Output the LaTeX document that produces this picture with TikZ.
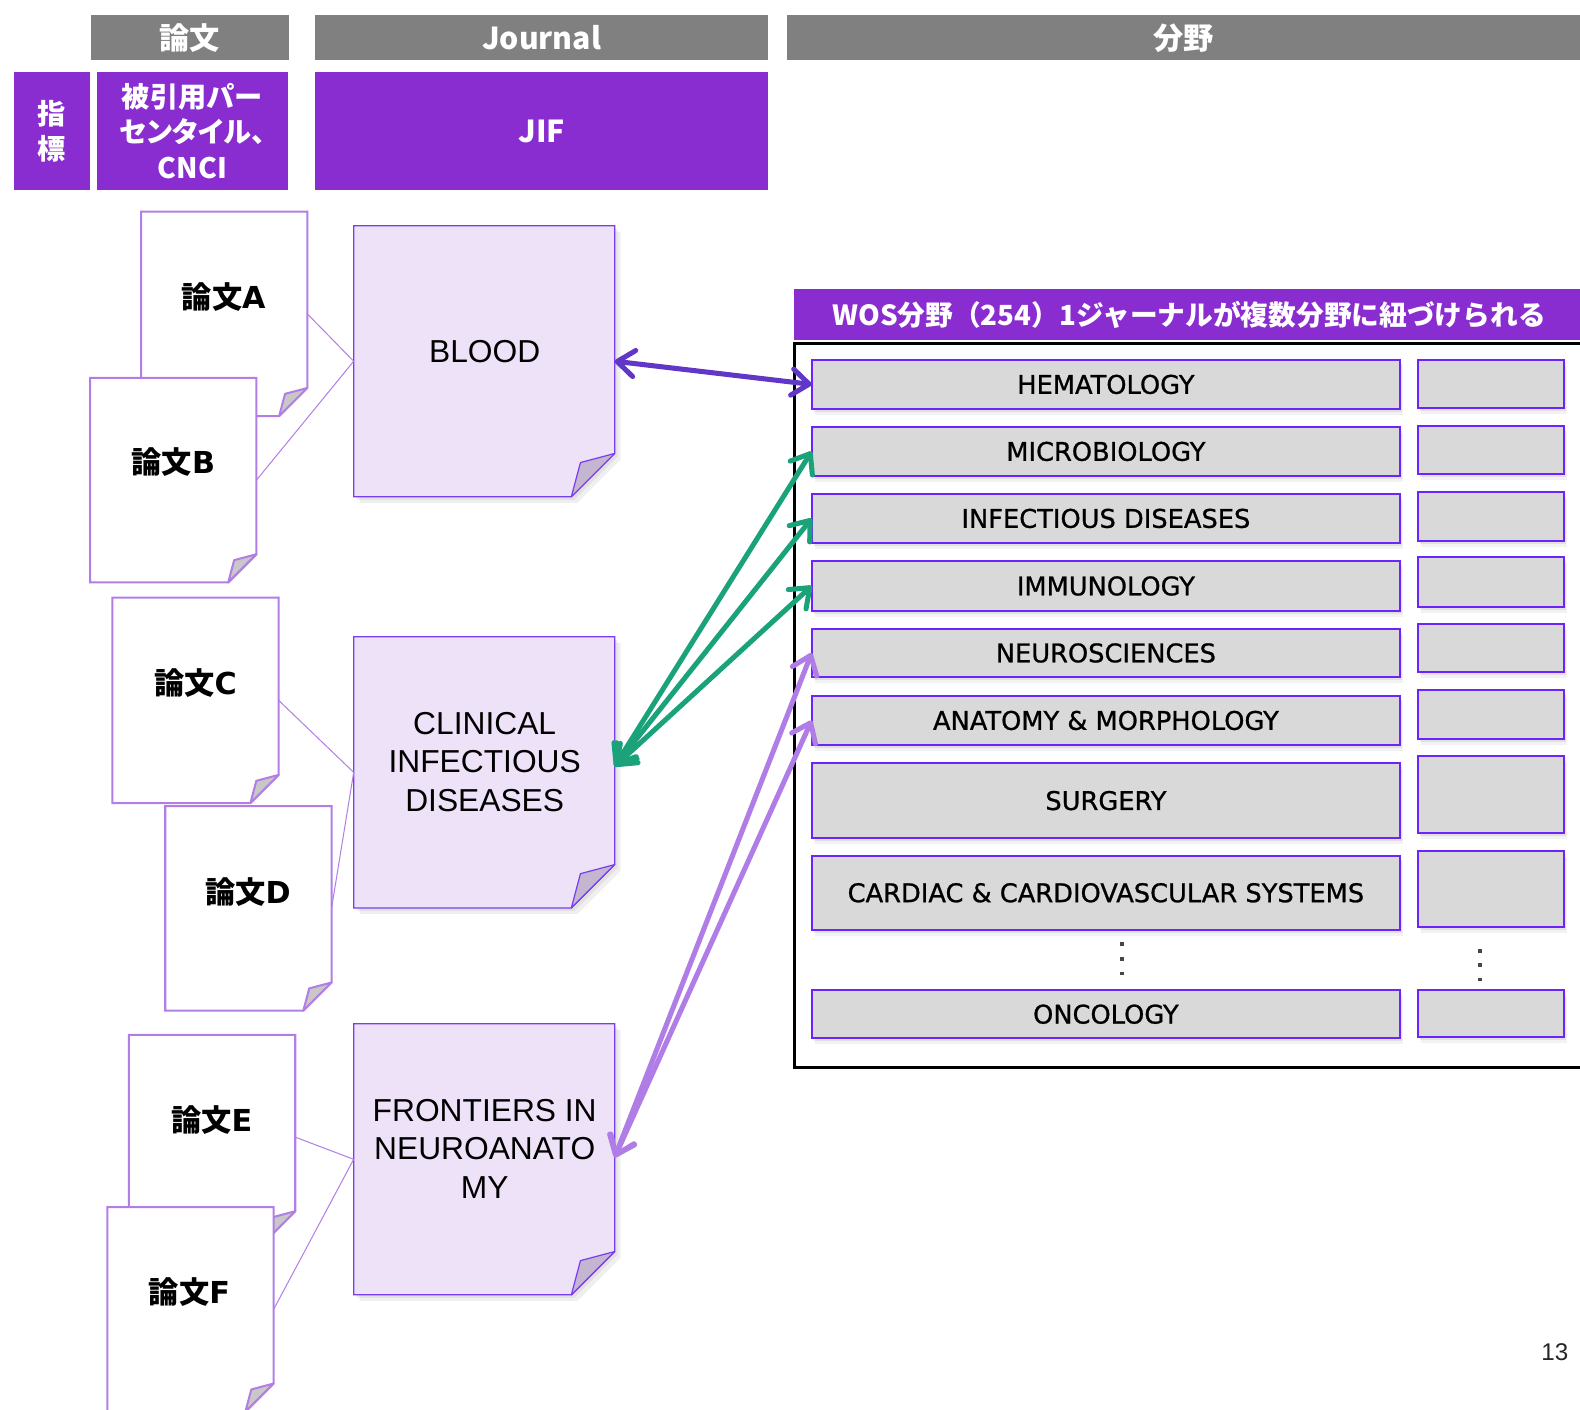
\documentclass[tikz,border=0pt]{standalone}
\usepackage{fontspec}
\setmainfont{DejaVu Sans}
\newfontfamily\jpfont{Noto Sans CJK JP}
\newfontfamily\arialfont{Liberation Sans}
\newfontfamily\catfont{DejaVu Sans}[BoldFont={DejaVu Sans}, BoldFeatures={FakeBold=0.9}]
\usetikzlibrary{arrows.meta,shadows}
\definecolor{hdrgray}{RGB}{128,128,128}
\definecolor{vpurple}{RGB}{138,45,208}
\definecolor{paperline}{RGB}{178,126,230}
\definecolor{foldgray}{RGB}{200,200,200}
\definecolor{jfill}{RGB}{238,226,248}
\definecolor{jline}{RGB}{122,60,240}
\definecolor{jfold}{RGB}{196,182,208}
\definecolor{catfill}{RGB}{217,217,217}
\definecolor{catline}{RGB}{108,36,250}
\definecolor{arrpurple}{RGB}{96,55,198}
\definecolor{arrgreen}{RGB}{26,163,122}
\definecolor{arrlight}{RGB}{176,124,230}
\definecolor{dotgray}{RGB}{70,70,70}
% folded-corner document outline drawn round a named node
% #1 node, #2 cut, #3 fill, #4 draw, #5 fold fill, #6 line width, #7 extra style
\newcommand\docshape[7]{%
  \path[fill=#3, draw=#4, line width=#6, #7] (#1.north west) -- (#1.north east)
    -- ([yshift=#2pt]#1.south east) -- ([xshift=-#2pt]#1.south east)
    -- (#1.south west) -- cycle;
  \path[fill=#5, draw=#4, line width=#6, line join=round] ([yshift=#2pt]#1.south east)
    -- ([xshift={-0.79*#2pt}, yshift={0.79*#2pt}]#1.south east)
    -- ([xshift=-#2pt]#1.south east) -- cycle;
}
\tikzset{
  hdr/.style={fill=hdrgray, text=white, inner sep=0, outer sep=0, minimum height=45pt,
    font=\fontsize{30}{34}\selectfont\jpfont\bfseries},
  pbox/.style={fill=vpurple, text=white, inner sep=0, outer sep=0, minimum height=118pt,
    align=center, font=\fontsize{28}{35}\selectfont\jpfont\bfseries},
  paperbox/.style={minimum width=165pt, minimum height=203pt, inner sep=0, outer sep=0},
  papertxt/.style={font=\fontsize{30}{34}\selectfont\bfseries, text=black, inner sep=0},
  jbox/.style={minimum width=259pt, minimum height=269pt, inner sep=0, outer sep=0},
  jshadow/.style={drop shadow={opacity=0.12, shadow xshift=3pt, shadow yshift=-3pt},
    drop shadow={opacity=0.12, shadow xshift=6pt, shadow yshift=-6pt}},
  jtxt/.style={font=\fontsize{31.5}{38}\selectfont\arialfont, align=center, text=black, inner sep=0},
  catbox/.style={draw=catline, line width=2pt, fill=catfill, inner sep=0, outer sep=0,
    drop shadow={opacity=0.14, shadow xshift=2pt, shadow yshift=-3pt},
    drop shadow={opacity=0.10, shadow xshift=3pt, shadow yshift=-6pt},
    font=\fontsize{25.5}{30}\selectfont\catfont\bfseries, text=black},
  catL/.style={catbox, minimum width=584pt},
  catR/.style={catbox, minimum width=145pt},
  link/.style={draw=paperline, line width=1pt},
  biarrow/.style={line width=5pt, line cap=round,
    {Straight Barb[length=17pt,width=26pt,line cap=round,line join=round]}-{Straight Barb[length=17pt,width=26pt,line cap=round,line join=round]}},
}
\begin{document}
\begin{tikzpicture}[x=1pt,y=-1pt]
\useasboundingbox (0,0) rectangle (1568,1399);
\fill[white] (0,0) rectangle (1568,1399);

% header row
\node[hdr, minimum width=197pt] (hPaper) at (188.5,37.5) {論文};
\node[hdr, minimum width=449pt] (hJournal) at (537.5,37.5) {Journal};
\node[hdr, minimum width=787pt] (hField) at (1174.5,37.5) {分野};

% indicator row
\node[pbox, minimum width=75pt] (iLabel) at (51.5,130) {指\\標};
\node[pbox, minimum width=190pt] (iPaper) at (191,130) {被引用パー\\{\addfontfeature{RawFeature=+palt}センタイル、}\\CNCI};
\node[pbox, minimum width=449pt, font=\fontsize{30}{34}\selectfont\jpfont\bfseries] (iJournal) at (537.5,130) {JIF};

% papers
\node[paperbox] (pA) at (222.5,311.5) {};
\docshape{pA}{28}{white}{paperline}{foldgray}{2pt}{}
\node[papertxt] (tA) at (222,295) {{\jpfont\bfseries 論文}A};
\node[paperbox] (pB) at (172,476.5) {};
\docshape{pB}{28}{white}{paperline}{foldgray}{2pt}{}
\node[papertxt] (tB) at (172,459) {{\jpfont\bfseries 論文}B};
\node[paperbox, minimum height=204pt] (pC) at (194,695) {};
\docshape{pC}{28}{white}{paperline}{foldgray}{2pt}{}
\node[papertxt] (tC) at (194,678) {{\jpfont\bfseries 論文}C};
\node[paperbox] (pD) at (246.5,901.5) {};
\docshape{pD}{28}{white}{paperline}{foldgray}{2pt}{}
\node[papertxt] (tD) at (246,885) {{\jpfont\bfseries 論文}D};
\node[paperbox] (pE) at (210.5,1128.5) {};
\docshape{pE}{28}{white}{paperline}{foldgray}{2pt}{}
\node[papertxt] (tE) at (210,1112) {{\jpfont\bfseries 論文}E};
\node[paperbox] (pF) at (189,1299.5) {};
\docshape{pF}{28}{white}{paperline}{foldgray}{2pt}{}
\node[papertxt] (tF) at (188,1282) {{\jpfont\bfseries 論文}F};

% journals
\node[jbox] (jB) at (480.5,358.5) {};
\docshape{jB}{43}{jfill}{jline}{jfold}{1.2pt}{jshadow}
\node[jtxt] (jBt) at (481,349) {BLOOD};
\node[jbox] (jC) at (480.5,766.5) {};
\docshape{jC}{43}{jfill}{jline}{jfold}{1.2pt}{jshadow}
\node[jtxt] (jCt) at (481,756) {CLINICAL\\INFECTIOUS\\DISEASES};
\node[jbox] (jF) at (480.5,1150.5) {};
\docshape{jF}{43}{jfill}{jline}{jfold}{1.2pt}{jshadow}
\node[jtxt] (jFt) at (481,1140) {FRONTIERS IN\\NEUROANATO\\MY};

% paper-to-journal links
\draw[link] (pA.east) -- (jB.west);
\draw[link] (pB.east) -- (jB.west);
\draw[link] (pC.east) -- (jC.west);
\draw[link] (pD.east) -- (jC.west);
\draw[link] (pE.east) -- (jF.west);
\draw[link] (pF.east) -- (jF.west);

% WOS header and frame
\node[fill=vpurple, inner sep=0, outer sep=0, minimum width=800pt, minimum height=50pt] (wos) at (1188,312) {};
\node[text=white, inner sep=0, font=\fontsize{27.5}{32}\selectfont\jpfont\bfseries] (wost) at (1180,312)
  {WOS分野（254）1ジャーナルが複数分野に紐づけられる};
\draw[line width=3pt, black] (1600,341) -- (788,341) -- (788,1059) -- (1600,1059);

% categories
\node[catL, minimum height=49pt] (cHem) at (1097.5,381.5) {HEMATOLOGY};
\node[catL, minimum height=48pt] (cMic) at (1097.5,448) {MICROBIOLOGY};
\node[catL, minimum height=49pt] (cInf) at (1097.5,514.5) {INFECTIOUS DISEASES};
\node[catL, minimum height=49pt] (cImm) at (1097.5,581.5) {IMMUNOLOGY};
\node[catL, minimum height=48pt] (cNeu) at (1097.5,648) {NEUROSCIENCES};
\node[catL, minimum height=48pt] (cAna) at (1097.5,715) {ANATOMY \& MORPHOLOGY};
\node[catL, minimum height=74pt] (cSur) at (1097.5,794.5) {SURGERY};
\node[catL, minimum height=73pt] (cCar) at (1097.5,886) {CARDIAC \& CARDIOVASCULAR SYSTEMS};
\node[catL, minimum height=48pt] (cOnc) at (1097.5,1006.5) {ONCOLOGY};

\node[catR, minimum height=48pt] (rHem) at (1479.7,381.3) {};
\node[catR, minimum height=48pt] (rMic) at (1479.7,446.5) {};
\node[catR, minimum height=49pt] (rInf) at (1479.7,512.5) {};
\node[catR, minimum height=49pt] (rImm) at (1479.7,577.5) {};
\node[catR, minimum height=48pt] (rNeu) at (1479.7,643.3) {};
\node[catR, minimum height=48pt] (rAna) at (1479.7,709) {};
\node[catR, minimum height=76pt] (rSur) at (1479.7,788.5) {};
\node[catR, minimum height=76pt] (rCar) at (1479.7,882.3) {};
\node[catR, minimum height=47pt] (rOnc) at (1479.7,1005.5) {};

% vertical ellipses
\foreach \yy in {937,951.5,966} \fill[dotgray] (1111.5,\yy-1.8) rectangle (1115,\yy+1.8);
\foreach \yy in {943.5,957.5,972} \fill[dotgray] (1466.8,\yy-1.8) rectangle (1470.3,\yy+1.8);

% arrows
\draw[biarrow, arrpurple] (jB.east) -- (cHem.west);
\draw[biarrow, arrgreen] ([yshift=6pt]jC.east) -- (cMic.west);
\draw[biarrow, arrgreen] ([yshift=6pt]jC.east) -- (cInf.west);
\draw[biarrow, arrgreen] ([yshift=6pt]jC.east) -- (cImm.west);
\draw[biarrow, arrlight] ([yshift=2pt]jF.east) -- (cNeu.west);
\draw[biarrow, arrlight] ([yshift=2pt]jF.east) -- (cAna.west);

% page number
\node[font=\fontsize{24}{28}\selectfont\arialfont, text=black!85, inner sep=0] (pgno) at (1543,1342) {13};
\end{tikzpicture}
\end{document}
